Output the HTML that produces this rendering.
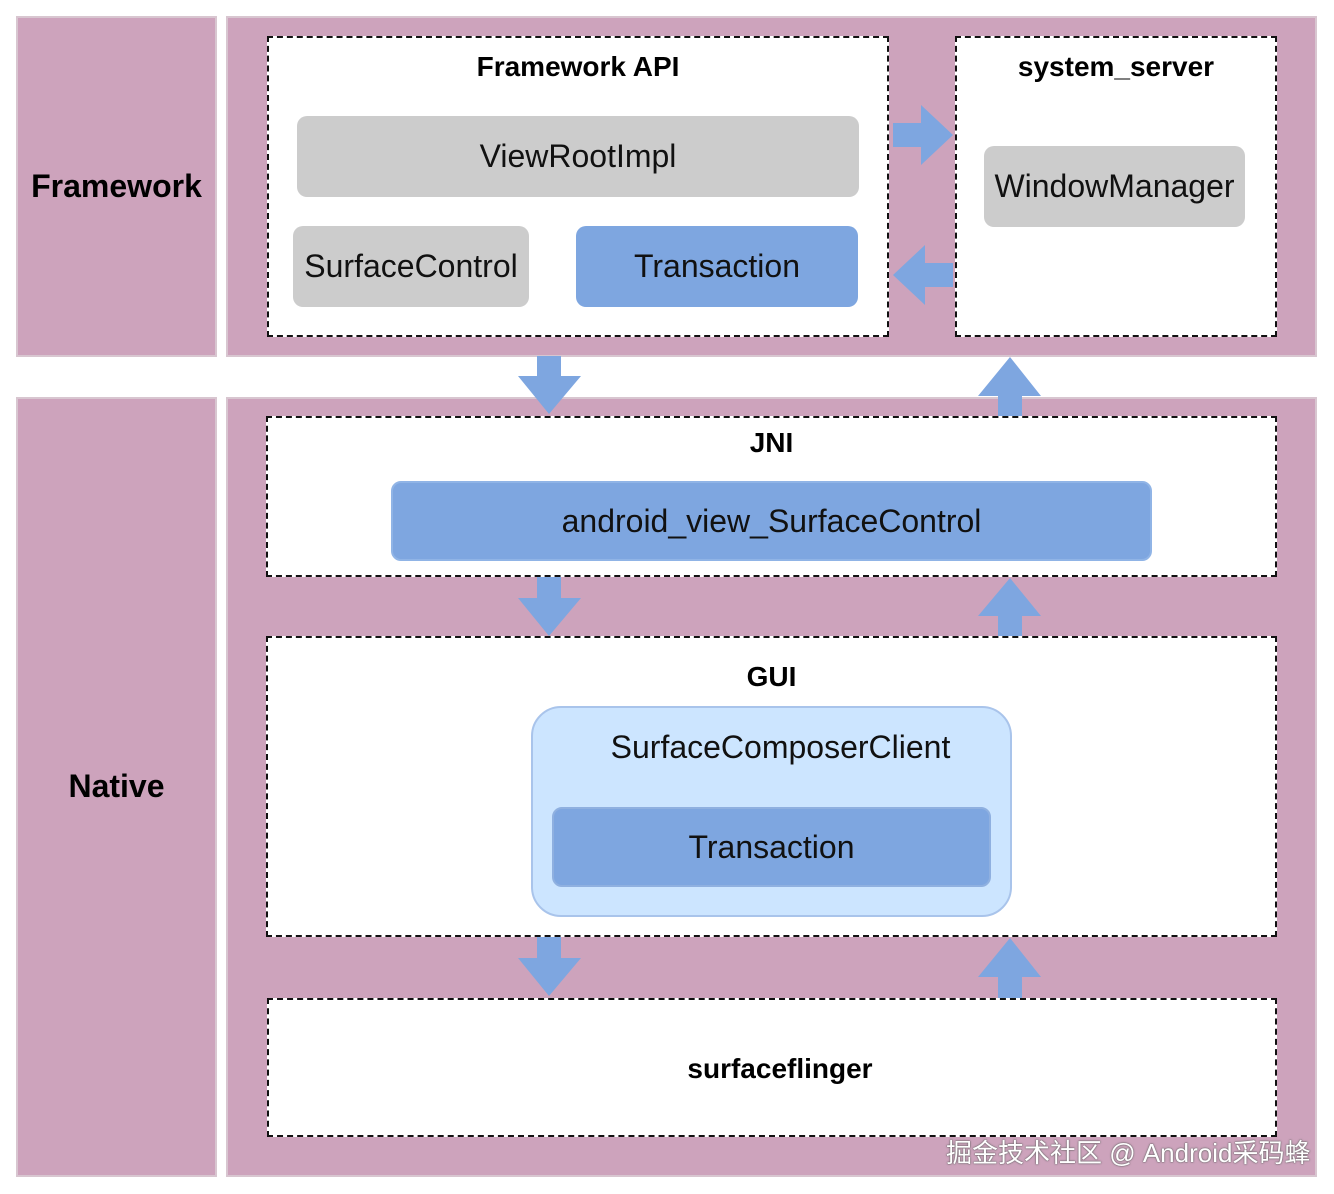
<!DOCTYPE html>
<html><head><meta charset="utf-8"><style>
body{margin:0;width:1334px;height:1194px;background:#fff;position:relative;overflow:hidden;font-family:"Liberation Sans",Arial,sans-serif}
.a{position:absolute;box-sizing:border-box}
.pk{background:#cda3bc;border:2px solid #d8c6d0}
.d{border:2px dashed #111;background:#fff}
.t{position:absolute;left:0;right:0;text-align:center;font-weight:bold;font-size:28px;color:#000}
.b{display:flex;align-items:center;justify-content:center;border-radius:10px;font-size:32px;color:#111}
.g{background:#cccccc}
.bl{background:#7ea6e0}
</style></head><body>
<div class="a pk" style="left:16px;top:16px;width:201px;height:341px"></div>
<div class="a pk" style="left:226px;top:16px;width:1091px;height:341px"></div>
<div class="a pk" style="left:16px;top:397px;width:201px;height:780px"></div>
<div class="a pk" style="left:226px;top:397px;width:1091px;height:780px"></div>
<div class="a" style="left:16px;top:168px;width:201px;text-align:center;font-weight:bold;font-size:32px">Framework</div>
<div class="a" style="left:16px;top:768px;width:201px;text-align:center;font-weight:bold;font-size:32px">Native</div>

<div class="a d" style="left:267px;top:36px;width:622px;height:301px"><div class="t" style="top:13px">Framework API</div></div>
<div class="a d" style="left:955px;top:36px;width:322px;height:301px"><div class="t" style="top:13px">system_server</div></div>
<div class="a b g" style="left:297px;top:116px;width:562px;height:81px">ViewRootImpl</div>
<div class="a b g" style="left:293px;top:226px;width:236px;height:81px">SurfaceControl</div>
<div class="a b bl" style="left:576px;top:226px;width:282px;height:81px">Transaction</div>
<div class="a b g" style="left:984px;top:146px;width:261px;height:81px">WindowManager</div>

<div class="a d" style="left:266px;top:416px;width:1011px;height:161px"><div class="t" style="top:9px">JNI</div></div>
<div class="a b bl" style="left:391px;top:481px;width:761px;height:80px;border:2px solid #90b4e6">android_view_SurfaceControl</div>

<div class="a d" style="left:266px;top:636px;width:1011px;height:301px"><div class="t" style="top:23px">GUI</div></div>
<div class="a" style="left:531px;top:706px;width:481px;height:211px;background:#cce5ff;border:2px solid #a9c4eb;border-radius:30px"><div style="position:absolute;left:18px;right:0;top:21px;text-align:center;font-size:32px;color:#111">SurfaceComposerClient</div></div>
<div class="a b bl" style="left:552px;top:807px;width:439px;height:80px;border:2px solid #8fb0e0">Transaction</div>

<div class="a d" style="left:267px;top:998px;width:1010px;height:139px"><div class="t" style="top:53px;left:16px">surfaceflinger</div></div>

<svg class="a" style="left:0;top:0" width="1334" height="1194">
<g fill="#7ea6e0">
<polygon points="893,123 921,123 921,105 953,135 921,165 921,147 893,147"/>
<polygon points="953,263 925,263 925,245 893,275 925,305 925,287 953,287"/>
<polygon points="537,356 561,356 561,376 581,376 549,414 518,376 537,376"/>
<polygon points="998,416 1022,416 1022,396 1041,396 1010,357 978,396 998,396"/>
<polygon points="537,577 561,577 561,598 581,598 549,636 518,598 537,598"/>
<polygon points="998,636 1022,636 1022,616 1041,616 1010,578 978,616 998,616"/>
<polygon points="537,937 561,937 561,958 581,958 549,996 518,958 537,958"/>
<polygon points="998,998 1022,998 1022,977 1041,977 1010,938 978,977 998,977"/>
</g>
</svg>
<div class="a" style="left:946px;top:1133px;font-size:26px;color:#fff;text-shadow:0 0 2px #666,0 0 1px #444;font-family:'Liberation Sans','Noto Sans CJK SC',sans-serif">掘金技术社区 @ Android采码蜂</div>
</body></html>
